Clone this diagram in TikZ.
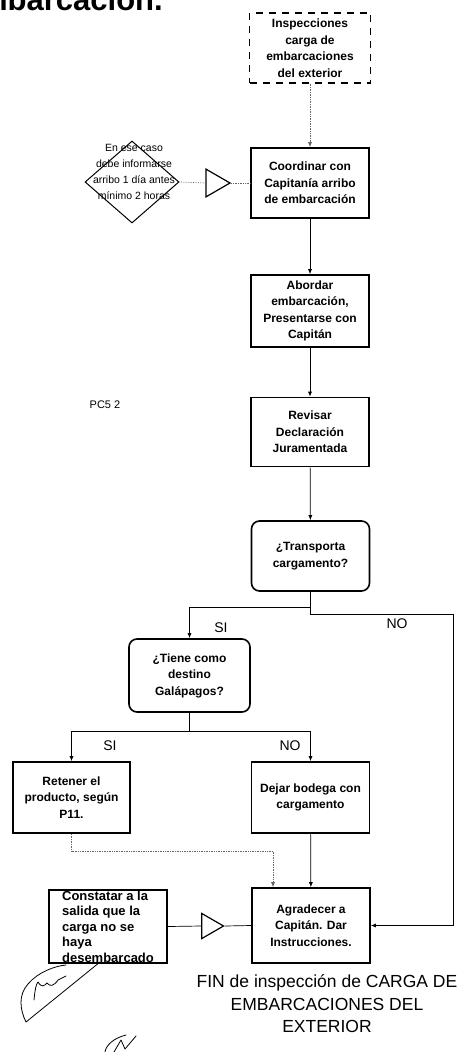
\documentclass[tikz,border=0pt]{standalone}
\usepackage{fontspec}
\setmainfont{Liberation Sans}
\usetikzlibrary{arrows.meta, shapes.geometric, positioning}

\begin{document}
\begin{tikzpicture}[x=1pt, y=-1pt,
        process/.style={rectangle, draw=black, line width=1.6pt, minimum width=118pt, minimum height=71pt, align=center, inner sep=2pt, font=\bfseries\fontsize{12}{16.5}\selectfont},
        query/.style={process, rounded corners=8pt},
        startbox/.style={process, dash pattern=on 7pt off 6pt, line width=1.1pt},
        note/.style={diamond, draw=black, line width=1pt, minimum width=94pt, minimum height=82pt, inner sep=0pt},
        merge/.style={regular polygon, regular polygon sides=3, shape border rotate=270, draw=black, line width=1.2pt, minimum size=32pt, inner sep=0pt},
        flow/.style={-{Latex[length=5pt,width=4pt]}, line width=0.7pt, draw=black},
        dotflow/.style={flow, densely dotted, draw=black!60},
        link/.style={line width=0.7pt, draw=black},
        dotlink/.style={densely dotted, line width=0.7pt, draw=black!60},
        answer/.style={font=\fontsize{14}{16}\selectfont},
        sign/.style={line width=0.8pt, line cap=round, line join=round}
    ]
        \useasboundingbox (0,0) rectangle (459,1052);

        % --- TITLE (cut at top) ---
        \node[anchor=base east, inner sep=0pt, font=\bfseries\fontsize{31}{31}\selectfont] (title) at (163,10) {embarcación.};

        % --- MAIN COLUMN ---
        \node[startbox, minimum width=121pt, minimum height=70pt] (start) at (310,48) {Inspecciones\\carga de\\embarcaciones\\del exterior};
        \node[process, minimum height=70pt] (coord) at (310,183) {Coordinar con\\Capitanía arribo\\de embarcación};
        \node[process, minimum height=72pt] (abordar) at (310,311) {Abordar\\embarcación,\\Presentarse con\\Capitán};
        \node[process, minimum height=69pt] (revisar) at (310,432) {Revisar\\Declaración\\Juramentada};
        \node[query, minimum height=70pt] (transporta) at (310.5,556) {¿Transporta\\cargamento?};

        % --- NOTE ON THE LEFT ---
        \node[note] (note) at (132,182) {};
        \node[align=center, inner sep=0pt, font=\fontsize{10.5}{16}\selectfont] (notetext) at (134,172) {En ese caso\\debe informarse\\arribo 1 día antes\\mínimo 2 horas};
        \node[merge] (merge1) at (214,183) {};
        \node[font=\fontsize{11}{13}\selectfont] (pcs) at (105,405) {PC5 2};

        % --- BRANCHES ---
        \node[query, minimum width=121pt, minimum height=73pt] (tiene) at (189.5,675.5) {¿Tiene como\\destino\\Galápagos?};
        \node[process, minimum width=117pt] (retener) at (71.5,797.5) {Retener el\\producto, según\\P11.};
        \node[process] (dejar) at (310.5,797.5) {Dejar bodega con\\cargamento};
        \node[process, minimum height=75pt] (agradecer) at (311,925.5) {Agradecer a\\Capitán. Dar\\Instrucciones.};
        \node[process, minimum height=73pt, align=left, inner sep=1pt, font=\bfseries\fontsize{13}{15.5}\selectfont] (constatar) at (108,926.5) {Constatar a la\\salida que la\\carga no se\\haya\\desembarcado};
        \node[merge, minimum size=29pt] (merge2) at (209,926) {};

        \node[answer] (si1) at (221,628) {SI};
        \node[answer] (no1) at (397,624) {NO};
        \node[answer] (si2) at (110,746) {SI};
        \node[answer] (no2) at (290,746) {NO};

        \node[align=center, font=\fontsize{17.5}{22.5}\selectfont] (fin) at (327,1004) {FIN de inspección de CARGA DE\\EMBARCACIONES DEL\\EXTERIOR};

        % --- CONNECTIONS ---
        \coordinate (noturn) at (453,614);
        \coordinate (join) at (273,851);

        \draw[dotflow] (start) -- (coord);
        \draw[dotlink] (note.east) -- (merge1.west);
        \draw[dotlink] (merge1.east) -- (coord.west);
        \draw[flow] (coord) -- (abordar);
        \draw[flow] (abordar) -- (revisar);
        \draw[flow] (revisar) -- (transporta);
        \draw[flow] (transporta.south) -- ++(0,16) -| (tiene.north);
        \draw[flow] (transporta.south) |- (noturn) |- (agradecer.east);
        \draw[flow] (tiene.south) -- ++(0,19) -| (retener.north);
        \draw[flow] (tiene.south) -- ++(0,19) -| (dejar.north);
        \draw[dotflow] (retener.south) |- (join) -- (join |- agradecer.north);
        \draw[flow] (dejar) -- (agradecer);
        \draw[link] (constatar.east) -- (merge2.west);
        \draw[link] (merge2.east) -- (agradecer.west);

        % --- SIGNATURES ---
        \draw[sign] (100,962) -- (26,1022) .. controls (20,1010) and (18,995) .. (28,984) .. controls (38,972) and (55,966) .. (66,965);
        \draw[sign] (34,1000) .. controls (35,990) and (36,984) .. (38,982) .. controls (42,988) and (44,986) .. (47,983) .. controls (50,987) and (54,986) .. (58,980) -- (66,976);
        \draw[sign] (126,1035) .. controls (114,1038) and (106,1045) .. (105,1052);
        \draw[sign] (114,1052) -- (121,1040) -- (125,1049) -- (136,1036);
    \end{tikzpicture}
\end{document}
